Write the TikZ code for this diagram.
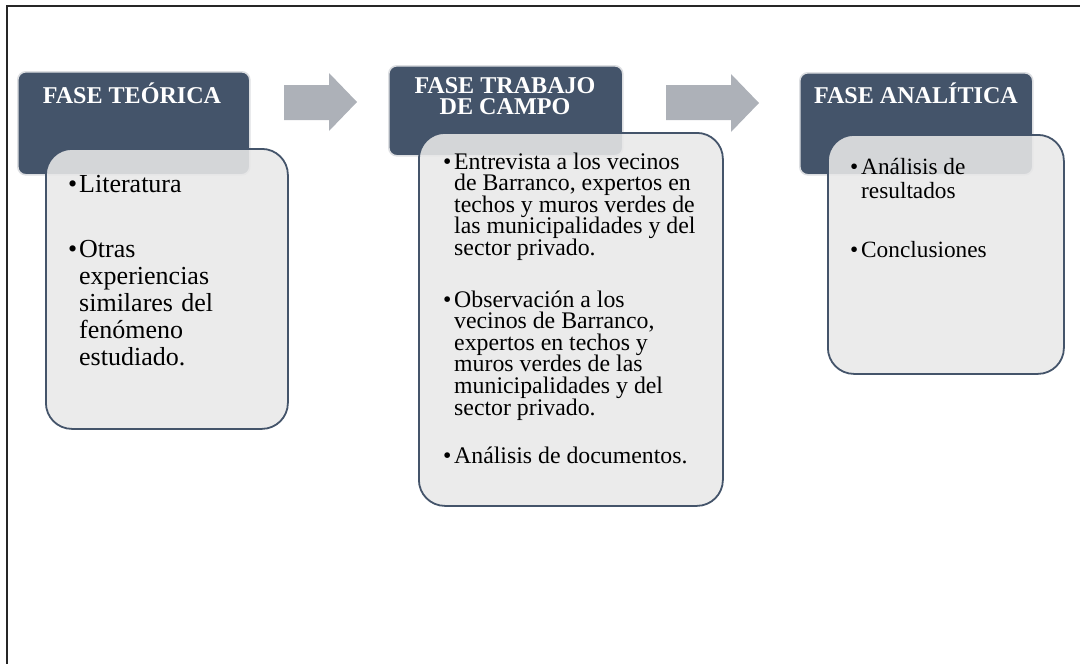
\documentclass[tikz,border=0pt]{standalone}
\usepackage{fontspec}
\setmainfont{Liberation Serif}
\definecolor{hdr}{HTML}{44546A}
\definecolor{bodyfill}{HTML}{E8E8E8}
\definecolor{arr}{HTML}{ADB1B8}
\definecolor{glow}{HTML}{DDDFE2}
\newcommand{\blt}{\makebox[11pt][l]{\textbullet}}
\newcommand{\ind}{\hspace*{11pt}}
\newcommand{\lines}[2]{\parbox[t]{#1}{\raggedright\lineskiplimit=-100pt\lineskip=0pt #2}}
\newcommand{\clines}[2]{\parbox[t]{#1}{\centering\lineskiplimit=-100pt\lineskip=0pt #2}}
\begin{document}
\begin{tikzpicture}[x=1pt,y=-1pt,
  hdrbox/.style={draw=glow, line width=1.6pt, fill=hdr, rounded corners=8pt, inner sep=0pt, anchor=north west},
  bodybox/.style={draw=hdr, line width=1.8pt, fill=bodyfill, fill opacity=0.88, rounded corners=26pt, inner sep=0pt, anchor=north west},
  hdrtext/.style={text=white, font=\bfseries\fontsize{24.1}{21}\selectfont, inner sep=0pt, anchor=base},
  bodytext/.style={text=black, inner sep=0pt, anchor=base west},
  arrowshape/.style={fill=arr}
]
\useasboundingbox (0,0) rectangle (1080,664);
% frame
\draw[line width=1.8pt, black!85] (6.6,664) -- (6.6,5.8) -- (1080,5.8);

% phase 1
\node[hdrbox, minimum width=232pt, minimum height=103pt] (h1) at (17,71) {};
\node[bodybox, minimum width=242pt, minimum height=280pt] (b1) at (45,148) {};
\node[hdrtext] (h1t) at (132,103) {FASE TEÓRICA};
\node[bodytext, font=\fontsize{26}{27}\selectfont] (b1t) at (68,192) {\lines{200pt}{%
\blt Literatura\\[38pt]
\blt Otras\\
\ind experiencias\\
\ind \makebox[134pt][s]{similares del}\\
\ind fenómeno\\
\ind estudiado.}};

% arrow 1
\fill[arrowshape] (284,85) -- (329,85) -- (329,73) -- (357,102) -- (329,131) -- (329,120) -- (284,120) -- cycle;

% phase 2
\node[hdrbox, minimum width=234pt, minimum height=90pt] (h2) at (388,65) {};
\node[bodybox, minimum width=304pt, minimum height=373pt] (b2) at (418,132) {};
\node[hdrtext] (h2t) at (505,93) {\clines{230pt}{FASE TRABAJO\\DE CAMPO}};
\node[bodytext, font=\fontsize{23.8}{21.6}\selectfont] (b2t) at (443,169) {\lines{290pt}{%
\blt Entrevista a los vecinos\\
\ind de Barranco, expertos en\\
\ind techos y muros verdes de\\
\ind las municipalidades y del\\
\ind sector privado.\\[30pt]
\blt Observación a los\\
\ind vecinos de Barranco,\\
\ind expertos en techos y\\
\ind muros verdes de las\\
\ind municipalidades y del\\
\ind sector privado.\\[27pt]
\blt Análisis de documentos.}};

% arrow 2
\fill[arrowshape] (666,85) -- (731,85) -- (731,74) -- (759,103) -- (731,132) -- (731,120) -- (666,120) -- cycle;

% phase 3
\node[hdrbox, minimum width=233pt, minimum height=102pt] (h3) at (799,72) {};
\node[bodybox, minimum width=236pt, minimum height=239pt] (b3) at (827,134) {};
\node[hdrtext] (h3t) at (916,103) {FASE ANALÍTICA};
\node[bodytext, font=\fontsize{23.3}{24}\selectfont] (b3t) at (850,174) {\lines{200pt}{%
\blt Análisis de\\
\ind resultados\\[35pt]
\blt Conclusiones}};
\end{tikzpicture}
\end{document}
